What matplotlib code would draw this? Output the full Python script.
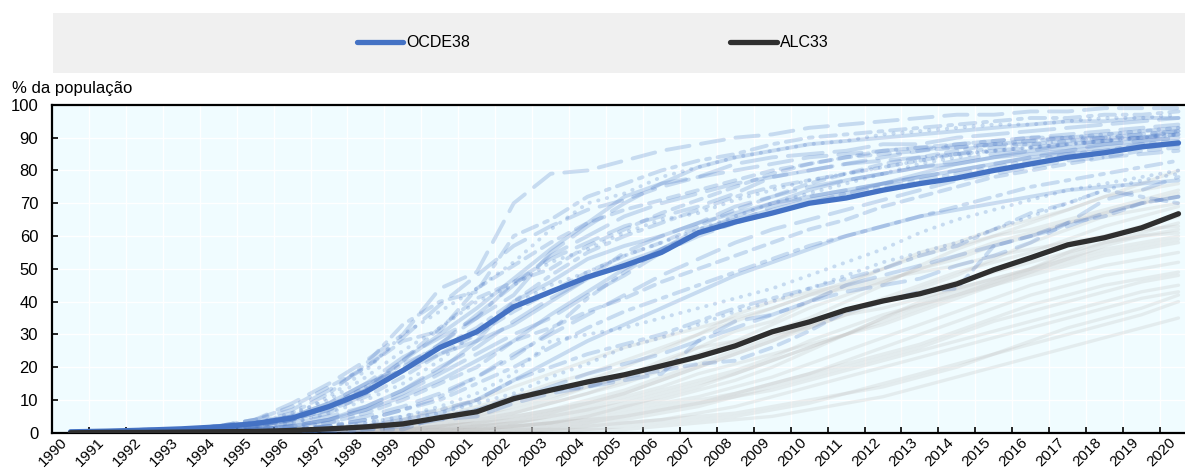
import matplotlib.pyplot as plt
import numpy as np
from matplotlib.ticker import MultipleLocator, FixedLocator

# Internet users, % of population, 1990-2020
years = list(range(1990, 2021))

ocde38 = [0.3, 0.5, 0.8, 1.2, 1.8, 2.8, 4.5, 8, 12.5, 19, 26, 30.8, 38.4, 43, 47.5, 51,
          55, 61, 64.3, 67, 70, 71.6, 74, 76, 77.7, 80, 82, 84, 85.4, 87.2, 88.4]
alc33 = [0, 0.1, 0.1, 0.2, 0.3, 0.4, 0.7, 1.2, 1.8, 2.7, 4.6, 6.4, 10.4, 13, 15.5, 17.7,
         20.4, 23.2, 26.5, 30.8, 33.8, 37.5, 40.2, 42.4, 45.4, 49.7, 53.4, 57.3, 59.5, 62.5, 66.8]

# individual OECD countries
oecd_countries = [
    [0, 0, 0, 1, 2, 4, 9, 15, 22, 30, 44, 49, 70, 79, 80, 83, 86, 88, 90, 91, 93, 94, 95, 96, 97, 97, 98, 98, 99, 99, 99],
    [0, 0, 1, 1, 2, 3, 6, 12, 21, 33, 40, 43, 60, 65, 72, 76, 80, 83, 85, 88, 90, 91, 92, 93, 94, 95, 96, 96, 97, 97, 98],
    [0, 0, 0, 1, 2, 3, 5, 11, 19, 30, 37, 44, 52, 62, 70, 73, 78, 81, 84, 86, 88, 89, 91, 92, 93, 94, 94, 95, 96, 96, 97],
    [0, 0, 0, 0, 1, 2, 4, 7, 13, 22, 30, 38, 47, 56, 64, 72, 76, 81, 84, 86, 88, 89, 90, 91, 92, 93, 94, 95, 95, 96, 96],
    [0, 0, 0, 1, 1, 3, 5, 9, 15, 23, 29, 35, 42, 55, 63, 70, 76, 78, 82, 84, 85, 86, 88, 88, 90, 91, 92, 93, 94, 95, 96],
    [0, 0, 1, 1, 2, 4, 8, 14, 20, 28, 31, 44, 51, 58, 64, 68, 71, 74, 77, 80, 82, 84, 86, 87, 88, 89, 90, 90, 91, 92, 93],
    [0, 0, 0, 0, 1, 1, 3, 6, 12, 20, 27, 35, 46, 53, 58, 63, 66, 69, 73, 78, 80, 82, 84, 86, 88, 89, 90, 91, 92, 93, 94],
    [0, 0, 0, 1, 1, 2, 4, 8, 14, 21, 26, 32, 40, 48, 55, 60, 64, 68, 72, 75, 77, 79, 81, 83, 85, 87, 88, 89, 90, 91, 92],
    [0, 0, 0, 0, 1, 2, 3, 6, 10, 15, 22, 31, 39, 45, 49, 54, 58, 62, 66, 70, 73, 76, 79, 82, 84, 86, 87, 88, 89, 90, 91],
    [0, 0, 0, 0, 0, 1, 2, 4, 8, 13, 19, 28, 40, 46, 53, 57, 60, 64, 67, 70, 72, 74, 76, 79, 82, 84, 86, 87, 88, 89, 90],
    [0, 0, 0, 0, 1, 1, 2, 4, 7, 12, 18, 24, 30, 35, 42, 48, 55, 60, 64, 69, 72, 74, 76, 78, 80, 82, 84, 86, 88, 89, 90],
    [0, 0, 0, 0, 0, 1, 2, 3, 6, 10, 15, 20, 28, 32, 37, 41, 46, 50, 54, 58, 62, 65, 69, 72, 75, 78, 80, 82, 84, 86, 87],
    [0, 0, 0, 0, 0, 1, 1, 3, 5, 8, 12, 17, 24, 30, 36, 42, 48, 53, 58, 62, 65, 68, 71, 74, 77, 79, 81, 83, 84, 85, 86],
    [0, 0, 0, 0, 0, 0, 1, 2, 4, 7, 10, 15, 20, 26, 32, 37, 41, 45, 49, 53, 57, 60, 63, 66, 69, 72, 75, 77, 79, 81, 83],
    [0, 0, 0, 0, 0, 0, 1, 1, 3, 5, 8, 12, 18, 28, 30, 32, 35, 38, 41, 44, 48, 52, 56, 61, 65, 68, 71, 74, 76, 78, 80],
    [0, 0, 0, 0, 0, 0, 0, 1, 2, 4, 6, 10, 16, 22, 28, 33, 38, 43, 48, 52, 56, 60, 63, 66, 68, 70, 72, 74, 75, 76, 77],
    [0, 0, 0, 0, 0, 0, 0, 1, 2, 3, 4, 7, 10, 14, 18, 21, 24, 28, 32, 36, 40, 45, 48, 51, 54, 57, 60, 63, 67, 70, 72],
    [0, 0, 0, 0, 0, 0, 0, 0, 1, 1, 5, 7, 11, 13, 14, 17, 19, 21, 22, 26, 31, 37, 40, 43, 44, 57, 60, 64, 66, 70, 72],
    [0, 0, 0, 0, 0, 0, 0, 0, 1, 2, 4, 5, 9, 12, 14, 16, 18, 28, 34, 36, 40, 43, 45, 47, 51, 54, 58, 64, 71, 74, 78],
    [0, 0, 0, 0, 0, 1, 1, 2, 4, 7, 11, 17, 23, 31, 41, 49, 56, 61, 64, 67, 70, 73, 75, 77, 79, 81, 83, 85, 86, 88, 89],
    [0, 0, 0, 1, 2, 3, 6, 10, 17, 25, 32, 40, 45, 52, 56, 61, 65, 67, 71, 74, 77, 79, 81, 83, 85, 86, 87, 88, 89, 90, 91],
    [0, 0, 0, 0, 1, 2, 5, 9, 15, 19, 24, 28, 33, 40, 47, 52, 56, 62, 65, 68, 71, 73, 76, 78, 80, 82, 84, 85, 86, 87, 88],
    [0, 0, 0, 1, 1, 2, 3, 5, 8, 13, 20, 26, 34, 41, 47, 55, 60, 64, 69, 72, 75, 77, 79, 81, 83, 85, 86, 88, 89, 90, 92],
    [0, 0, 0, 0, 1, 2, 4, 8, 14, 22, 32, 41, 46, 50, 57, 62, 67, 71, 75, 79, 82, 84, 85, 86, 87, 88, 88, 89, 90, 90, 91],
    [0, 0, 0, 1, 2, 4, 7, 13, 20, 29, 39, 48, 57, 63, 68, 71, 75, 78, 80, 82, 84, 85, 86, 87, 87, 88, 89, 90, 90, 91, 92],
    [0, 0, 0, 0, 0, 0, 1, 2, 3, 5, 7, 10, 16, 20, 24, 27, 30, 34, 38, 41, 44, 47, 50, 54, 57, 62, 67, 70, 74, 72, 70],
    [0, 0, 0, 0, 0, 0, 1, 1, 2, 4, 6, 9, 12, 17, 21, 26, 29, 33, 37, 40, 44, 48, 52, 55, 58, 62, 66, 70, 74, 77, 79],
    [0, 0, 0, 0, 1, 1, 2, 4, 7, 11, 16, 22, 28, 36, 43, 50, 56, 61, 66, 70, 74, 77, 79, 81, 82, 84, 85, 86, 87, 88, 88],
    [0, 0, 1, 1, 2, 3, 5, 8, 13, 19, 27, 36, 45, 54, 60, 66, 70, 73, 76, 78, 80, 82, 83, 84, 85, 86, 87, 88, 89, 90, 91],
    [0, 0, 0, 1, 1, 2, 4, 7, 11, 17, 24, 30, 37, 43, 49, 54, 58, 63, 68, 72, 76, 79, 82, 84, 86, 88, 89, 90, 91, 92, 93],
]

# individual Latin American and Caribbean countries
lac_countries = [
    [0, 0, 0, 0, 0, 0, 0, 1, 2, 3, 5, 8, 11, 15, 18, 22, 26, 30, 34, 38, 42, 46, 50, 54, 57, 60, 64, 68, 72, 76, 80],
    [0, 0, 0, 0, 0, 0, 0, 0, 1, 2, 3, 5, 7, 10, 14, 17, 21, 26, 31, 34, 40, 45, 50, 55, 58, 62, 65, 68, 72, 74, 76],
    [0, 0, 0, 0, 0, 0, 1, 1, 2, 4, 7, 10, 14, 18, 22, 26, 29, 32, 35, 38, 42, 44, 46, 50, 53, 57, 60, 64, 67, 70, 73],
    [0, 0, 0, 0, 0, 0, 0, 0, 1, 1, 2, 3, 5, 7, 9, 12, 16, 20, 24, 28, 32, 36, 40, 44, 48, 53, 58, 62, 66, 68, 70],
    [0, 0, 0, 0, 0, 0, 0, 0, 1, 1, 3, 5, 8, 11, 14, 17, 22, 26, 28, 30, 32, 36, 38, 41, 44, 47, 50, 55, 60, 63, 66],
    [0, 0, 0, 0, 0, 0, 0, 0, 0, 1, 2, 3, 4, 6, 8, 11, 14, 18, 21, 24, 27, 30, 34, 38, 42, 46, 50, 54, 58, 61, 64],
    [0, 0, 0, 0, 0, 0, 0, 0, 0, 1, 1, 2, 3, 4, 6, 8, 10, 13, 16, 20, 25, 30, 35, 40, 44, 47, 50, 53, 56, 58, 60],
    [0, 0, 0, 0, 0, 0, 0, 0, 1, 2, 4, 6, 9, 12, 16, 20, 25, 30, 36, 40, 43, 45, 47, 49, 51, 54, 56, 58, 60, 62, 63],
    [0, 0, 0, 0, 0, 0, 0, 0, 0, 0, 1, 2, 3, 5, 7, 9, 12, 15, 18, 22, 26, 30, 33, 37, 41, 45, 49, 53, 57, 60, 62],
    [0, 0, 0, 0, 0, 0, 0, 0, 0, 1, 1, 2, 3, 5, 7, 10, 13, 16, 19, 23, 28, 32, 36, 39, 42, 45, 48, 51, 54, 56, 58],
    [0, 0, 0, 0, 0, 0, 0, 0, 0, 0, 1, 1, 2, 3, 5, 7, 9, 11, 14, 17, 21, 25, 29, 33, 37, 41, 45, 48, 51, 53, 55],
    [0, 0, 0, 0, 0, 0, 0, 0, 0, 0, 0, 1, 2, 3, 4, 6, 8, 10, 12, 15, 18, 22, 26, 30, 34, 38, 42, 45, 48, 50, 52],
    [0, 0, 0, 0, 0, 0, 0, 0, 0, 0, 1, 1, 2, 3, 4, 5, 7, 9, 12, 15, 18, 21, 24, 27, 31, 35, 39, 42, 45, 47, 49],
    [0, 0, 0, 0, 0, 0, 0, 0, 0, 0, 0, 0, 1, 2, 3, 4, 6, 8, 11, 14, 17, 20, 23, 26, 30, 34, 37, 40, 43, 46, 48],
    [0, 0, 0, 0, 0, 0, 0, 0, 0, 0, 0, 1, 1, 2, 3, 5, 7, 9, 11, 13, 16, 19, 22, 25, 28, 31, 34, 37, 40, 43, 45],
    [0, 0, 0, 0, 0, 0, 0, 0, 0, 0, 0, 0, 1, 1, 2, 3, 4, 6, 8, 11, 14, 17, 20, 23, 26, 29, 32, 35, 38, 41, 43],
    [0, 0, 0, 0, 0, 0, 0, 0, 0, 0, 0, 0, 0, 1, 1, 2, 3, 4, 5, 7, 9, 12, 15, 18, 21, 24, 27, 30, 33, 36, 40],
    [0, 0, 0, 0, 0, 0, 0, 0, 0, 0, 0, 0, 0, 0, 1, 1, 2, 3, 4, 5, 7, 9, 11, 14, 17, 20, 23, 26, 29, 32, 35],
    [0, 0, 0, 0, 0, 0, 0, 0, 0, 1, 2, 4, 6, 9, 12, 15, 19, 23, 27, 31, 35, 40, 45, 51, 56, 60, 62, 65, 68, 71, 74],
    [0, 0, 0, 0, 0, 0, 0, 0, 0, 0, 1, 2, 4, 6, 9, 12, 16, 20, 24, 28, 33, 37, 41, 45, 49, 52, 55, 59, 63, 66, 69],
    [0, 0, 0, 0, 0, 0, 0, 0, 0, 0, 0, 1, 2, 3, 5, 8, 11, 14, 18, 22, 26, 30, 35, 39, 43, 46, 49, 52, 55, 57, 59],
    [0, 0, 0, 0, 0, 0, 0, 0, 0, 0, 0, 0, 0, 1, 2, 3, 4, 5, 6, 8, 10, 12, 14, 17, 20, 24, 28, 32, 35, 38, 42],
    [0, 0, 0, 0, 0, 0, 0, 0, 1, 1, 2, 4, 6, 9, 12, 16, 20, 24, 28, 33, 38, 42, 46, 50, 54, 58, 61, 64, 67, 70, 72],
    [0, 0, 0, 0, 0, 0, 0, 0, 0, 1, 2, 3, 5, 7, 10, 13, 17, 21, 25, 29, 33, 37, 40, 43, 46, 49, 52, 55, 58, 60, 61],
]

blue = '#4472C4'
dark = '#2F2F2F'
styles = [(0, (6, 3)), (0, (4, 2, 1, 2)), (0, (0.1, 2.2)), '-', (0, (9, 3)), (0, (3, 2))]

plt.rcParams['font.family'] = ['Liberation Sans', 'DejaVu Sans']
plt.rcParams['font.size'] = 12

fig = plt.figure(figsize=(11.85, 4.72), dpi=100)
ax = fig.add_axes([0.0439, 0.0831, 0.9662, 0.6947])
ax.set_facecolor('#F0FCFF')

x = np.arange(len(years))

for vals in lac_countries:
    ax.plot(x, vals, color='#C4C4C4', alpha=0.28, lw=2.4, solid_capstyle='round', zorder=2)

for i, vals in enumerate(oecd_countries):
    ax.plot(x, vals, color=blue, alpha=0.24, lw=2.8, ls=styles[i % len(styles)],
            dash_capstyle='round', solid_capstyle='round', zorder=3)

l1, = ax.plot(x, ocde38, color=blue, lw=3.8, solid_capstyle='round', solid_joinstyle='round',
              label='OCDE38', zorder=5)
l2, = ax.plot(x, alc33, color=dark, lw=3.8, solid_capstyle='round', solid_joinstyle='round',
              label='ALC33', zorder=5)

ax.set_xlim(-0.5, len(years) - 0.5)
ax.set_ylim(0, 100)
ax.yaxis.set_major_locator(MultipleLocator(10))
ax.set_xticks(x)
ax.set_xticklabels([str(y) for y in years], rotation=45, ha='right', fontsize=11)
ax.xaxis.set_minor_locator(FixedLocator(np.arange(-0.5, len(years), 1.0)))

ax.tick_params(axis='x', which='major', length=0, pad=2)
ax.tick_params(axis='x', which='minor', direction='in', length=4, width=1.2, color='black')
ax.tick_params(axis='y', direction='in', length=4, width=1.2, pad=10)

ax.grid(which='minor', axis='x', color='white', lw=1.0)
ax.grid(which='major', axis='y', color='white', lw=1.0)
ax.set_axisbelow(True)

for side in ['left', 'bottom', 'top', 'right']:
    ax.spines[side].set_linewidth(1.6)
    ax.spines[side].set_color('black')

fig.text(12 / 1185, 0.803, '% da população', ha='left', va='baseline')

# legend band
band = plt.Rectangle((53 / 1185, 0.846), 1.0, 0.1265, transform=fig.transFigure,
                     facecolor='#F0F0F0', edgecolor='none', zorder=0)
fig.add_artist(band)
fig.legend(handles=[l1, l2], loc='center', bbox_to_anchor=(0.5, 0.909), ncol=2,
           frameon=False, fontsize=11.5, handlelength=2.9, handletextpad=0.2,
           columnspacing=16.3)

fig.savefig('out.png', dpi=100)
